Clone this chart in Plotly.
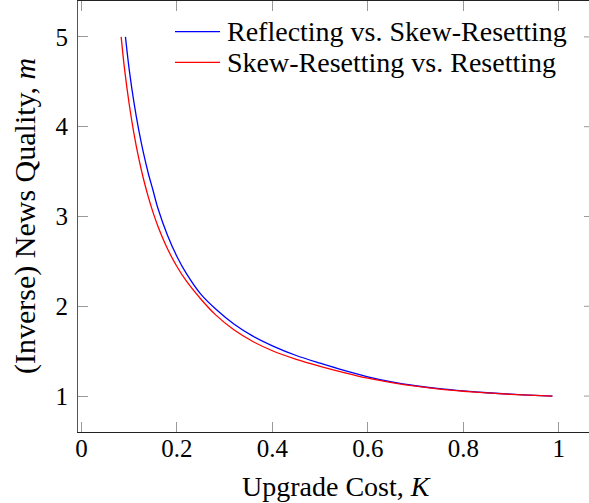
import plotly.graph_objects as go

# Upgrade cost K and (inverse) news quality m along each threshold curve
k_reflect_skew = [0.0922, 0.10, 0.11, 0.12, 0.13, 0.14, 0.15, 0.16, 0.18, 0.20, 0.22,
                  0.25, 0.28, 0.32, 0.36, 0.40, 0.45, 0.50, 0.55, 0.60, 0.65, 0.70,
                  0.75, 0.80, 0.85, 0.90, 0.95, 0.9866]
m_reflect_skew = [5.00, 4.639, 4.271, 3.965, 3.705, 3.482, 3.290, 3.094, 2.794, 2.555,
                  2.363, 2.135, 1.975, 1.800, 1.665, 1.560, 1.452, 1.366, 1.285, 1.215,
                  1.158, 1.115, 1.082, 1.057, 1.037, 1.021, 1.008, 1.00]

k_skew_reset = [0.0832, 0.09, 0.10, 0.11, 0.12, 0.13, 0.14, 0.15, 0.16, 0.18, 0.20,
                0.22, 0.25, 0.28, 0.32, 0.36, 0.40, 0.45, 0.50, 0.55, 0.60, 0.65,
                0.70, 0.75, 0.80, 0.85, 0.90, 0.95, 0.9866]
m_skew_reset = [5.00, 4.655, 4.253, 3.924, 3.650, 3.418, 3.219, 3.046, 2.895, 2.644,
                2.443, 2.279, 2.081, 1.910, 1.735, 1.605, 1.505, 1.410, 1.332, 1.262,
                1.199, 1.150, 1.110, 1.078, 1.054, 1.035, 1.020, 1.008, 1.00]

series_names = ["Reflecting vs. Skew-Resetting", "Skew-Resetting vs. Resetting"]
series_colors = ["#0000ff", "#ff0000"]

x_ticks = [0, 0.2, 0.4, 0.6, 0.8, 1]
x_tick_text = ["0", "0.2", "0.4", "0.6", "0.8", "1"]
y_ticks = [1, 2, 3, 4, 5]
y_tick_text = ["1", "2", "3", "4", "5"]

FONT = "Liberation Serif"
W, H = 589, 503
ML, MR, MT, MB = 78, 0, 1, 71
PW, PH = W - ML - MR, H - MT - MB

fig = go.Figure()
for kx, my, name, color in zip([k_reflect_skew, k_skew_reset],
                               [m_reflect_skew, m_skew_reset],
                               series_names, series_colors):
    fig.add_trace(go.Scatter(x=kx, y=my, mode="lines", name=name,
                             line=dict(color=color, width=1.3, shape="spline",
                                       smoothing=0.8),
                             showlegend=False))

def px_x(p):
    return (p - ML) / PW

def px_y(p):
    return (H - MB - p) / PH

# legend drawn in the upper right corner
legend_rows_y = [31.7, 62.3]
shapes = []
annotations = []
for name, color, yc in zip(series_names, series_colors, legend_rows_y):
    shapes.append(dict(type="line", xref="paper", yref="paper",
                       x0=px_x(175), x1=px_x(220), y0=px_y(yc), y1=px_y(yc),
                       line=dict(color=color, width=1.3)))
    annotations.append(dict(text=name, xref="paper", yref="paper",
                            x=px_x(225), y=px_y(yc), xanchor="left",
                            yanchor="middle", showarrow=False,
                            font=dict(family=FONT, size=28, color="black")))

# inward ticks on the right-hand side of the frame
for yv in y_ticks:
    shapes.append(dict(type="line", xref="paper", yref="y",
                       x0=1 - 5 / PW, x1=1, y0=yv, y1=yv,
                       line=dict(color="#999999", width=1)))

annotations.append(dict(text="Upgrade Cost, <i>K</i>", xref="paper", yref="paper",
                        x=px_x(336), y=px_y(486), xanchor="center", yanchor="middle",
                        showarrow=False, font=dict(family=FONT, size=28, color="black")))
annotations.append(dict(text="(Inverse) News Quality, <i>m</i>", xref="paper",
                        yref="paper", x=px_x(25), y=px_y(216), xanchor="center",
                        yanchor="middle", textangle=-90, showarrow=False,
                        font=dict(family=FONT, size=30, color="black")))

fig.update_layout(
    width=W, height=H, autosize=False,
    margin=dict(l=ML, r=MR, t=MT, b=MB, pad=0),
    paper_bgcolor="white", plot_bgcolor="white",
    font=dict(family=FONT, size=25, color="black"),
    shapes=shapes, annotations=annotations,
    xaxis=dict(range=[-0.0072, 1.0632], tickvals=x_ticks, ticktext=x_tick_text,
               ticks="inside", ticklen=10, tickcolor="#999999", tickwidth=1,
               showline=True, linecolor="#222222", linewidth=1.2, mirror="ticks",
               showgrid=False, zeroline=False, ticklabelstandoff=-6,
               tickfont=dict(family=FONT, size=25, color="black")),
    yaxis=dict(range=[0.6, 5.4], tickvals=y_ticks, ticktext=y_tick_text,
               ticks="inside", ticklen=10, tickcolor="#999999", tickwidth=1,
               showline=True, linecolor="#555555", linewidth=1.2,
               showgrid=False, zeroline=False, ticklabelstandoff=4,
               tickfont=dict(family=FONT, size=25, color="black")),
)

fig.write_html("out.html")
